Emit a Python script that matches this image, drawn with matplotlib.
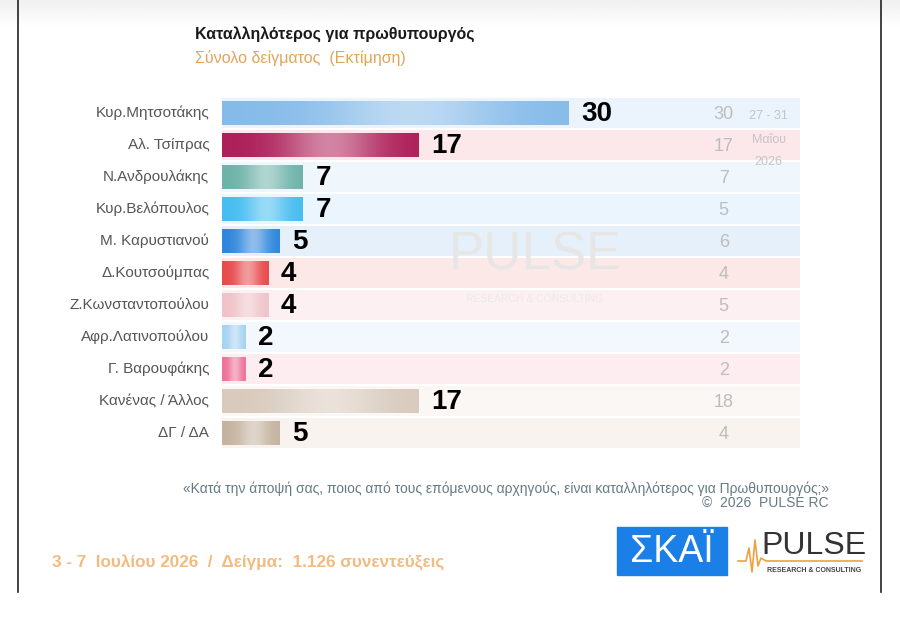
import numpy as np
import matplotlib
matplotlib.use('Agg')
import matplotlib.pyplot as plt
from matplotlib.colors import to_rgb
from matplotlib.lines import Line2D
from matplotlib.patches import Rectangle


# Chart data
leaders = ['Κυρ.Μητσοτάκης', 'Αλ. Τσίπρας', 'Ν.Ανδρουλάκης', 'Κυρ.Βελόπουλος',
           'Μ. Καρυστιανού', 'Δ.Κουτσούμπας', 'Ζ.Κωνσταντοπούλου',
           'Αφρ.Λατινοπούλου', 'Γ. Βαρουφάκης', 'Κανένας / Άλλος', 'ΔΓ / ΔΑ']
current = [30, 17, 7, 7, 5, 4, 4, 2, 2, 17, 5]
previous = [30, 17, 7, 5, 6, 4, 5, 2, 2, 18, 4]
previous_label = ['27 - 31', 'Μαΐου', '2026']

bar_colors = ['#86bbe9', '#ad1f58', '#6eb3a8', '#45bdf0', '#2f86dc', '#e84a4c',
              '#efc3c9', '#a6d2f1', '#ee7299', '#d8cbbd', '#c4b39f']
stripe_colors = ['#ebf4fc', '#fce7eb', '#eff7fc', '#ebf5fd', '#e6f0fa', '#fde8e8',
                 '#fdf0f2', '#f2f8fd', '#fdedf0', '#faf7f4', '#f8f3ee']

FONT = ['Liberation Sans', 'DejaVu Sans']
W, H = 900, 617


def fx(px):
    """Pixel x -> figure fraction."""
    return np.asarray(px) / W


def fy(py):
    """Pixel y (from top) -> figure fraction."""
    return 1 - np.asarray(py) / H


def gradient_bar(ax, patch, color):
    """Fill a bar patch with a horizontal light-in-the-middle gradient."""
    x0, y0 = patch.get_x(), patch.get_y()
    w, h = patch.get_width(), patch.get_height()
    base = np.array(to_rgb(color))
    t = np.linspace(0, 1, 64)
    # brighter in the middle, darker at both ends
    k = 0.45 * np.exp(-((t - 0.55) / 0.25) ** 2)
    row = base[None, :] * (1 - k[:, None]) + k[:, None]
    im = ax.imshow(row[None, :, :], extent=(x0, x0 + w, y0 + h, y0), aspect='auto',
                   interpolation='bilinear', zorder=3)
    im.set_clip_path(patch)


def main():
    fig = plt.figure(figsize=(9, 6.17), dpi=100)
    fig.patch.set_facecolor('white')

    # light grey fade at the top of the screenshot
    top = fig.add_axes([0, fy(28), 1, fy(0) - fy(28)])
    fade = np.linspace(0.94, 1.0, 32)[:, None] * np.ones((1, 4))
    top.imshow(fade, cmap='gray', vmin=0, vmax=1, aspect='auto',
               interpolation='bilinear')
    top.axis('off')

    # Axes placed so the 0..50 scale sits at 222..800 px
    ax = fig.add_axes([fx(222), fy(449), fx(800) - fx(222), fy(97) - fy(449)])
    y = np.arange(len(leaders))

    # background stripes
    ax.barh(y, [50] * len(y), height=0.94, color=stripe_colors, zorder=1)

    # main bars
    bars = ax.barh(y, current, height=0.78, color=bar_colors, zorder=2)
    for patch, col in zip(bars.patches, bar_colors):
        gradient_bar(ax, patch, col)

    ax.set_xlim(0, 50)
    ax.set_ylim(len(y) - 0.5, -0.5)
    ax.axis('off')

    # value labels
    for yi, v in zip(y, current):
        ax.text(v + 1.1, yi + 0.03, str(v), va='center', ha='left', fontsize=20,
                fontweight='bold', color='black', family=FONT, zorder=4)

    # category labels
    for yi, name in zip(y, leaders):
        ax.text(-1.1, yi, name, va='center', ha='right', fontsize=11,
                color='#555555', family=FONT)

    # previous poll column
    for yi, v in zip(y, previous):
        ax.text(43.4, yi + 0.05, str(v), va='center', ha='center', fontsize=13,
                color='#bdbdbd', family=FONT, zorder=4)
    for yl, s in zip([0.1, 0.84, 1.53], previous_label):
        ax.text(47.3, yl, s, va='center', ha='center', fontsize=9,
                color='#c4c4c4', family=FONT, zorder=4)

    # watermark
    fig.text(fx(535), fy(255), 'PULSE', ha='center', va='center', fontsize=38,
             color='#e6e6e6', family=FONT, zorder=5)
    fig.text(fx(535), fy(299), 'RESEARCH & CONSULTING', ha='center', va='center',
             fontsize=7.5, color='#eaeaea', family=FONT, zorder=5)

    # titles
    fig.text(fx(195), fy(34), 'Καταλληλότερος για πρωθυπουργός', ha='left',
             va='center', fontsize=11.5, fontweight='bold', color='#1a1a1a',
             family=FONT)
    fig.text(fx(195), fy(58), 'Σύνολο δείγματος  (Εκτίμηση)', ha='left',
             va='center', fontsize=11.5, color='#e3a45c', family=FONT)

    # footnotes
    fig.text(fx(829), fy(489), '«Κατά την άποψή σας, ποιος από τους επόμενους '
             'αρχηγούς, είναι καταλληλότερος για Πρωθυπουργός;»', ha='right',
             va='center', fontsize=10, color='#667a84', family=FONT)
    fig.text(fx(829), fy(503), '©  2026  PULSE RC', ha='right', va='center',
             fontsize=10, color='#667a84', family=FONT)
    fig.text(fx(52), fy(563), '3 - 7  Ιουλίου 2026  /  Δείγμα:  1.126 συνεντεύξεις',
             ha='left', va='center', fontsize=12.3, fontweight='bold',
             color='#f2bb80', family=FONT)

    # SKAI logo
    fig.add_artist(Rectangle((fx(617), fy(575)), fx(727) - fx(617), fy(527) - fy(575),
                             transform=fig.transFigure, color='#1a7fe6', zorder=5))
    fig.text(fx(672), fy(552), 'ΣΚΑΪ', ha='center', va='center', fontsize=27,
             color='white', family=FONT, zorder=6)

    # PULSE logo
    fig.text(fx(814), fy(546), 'PULSE', ha='center', va='center', fontsize=23,
             color='#333333', family=FONT, zorder=6)
    fig.text(fx(814), fy(570), 'RESEARCH & CONSULTING', ha='center', va='center',
             fontsize=5, fontweight='bold', color='#444444', family=FONT, zorder=6)
    px = [738, 746, 749, 752, 755, 758, 761, 766, 862]
    py = [561, 561, 548, 572, 540, 566, 558, 561, 561]
    fig.add_artist(Line2D(fx(px), fy(py), transform=fig.transFigure,
                          color='#f0a040', lw=1.2, zorder=6))

    # frame lines of the screenshot
    for xp in (18, 881):
        fig.add_artist(Line2D([fx(xp), fx(xp)], [fy(0), fy(592)],
                              transform=fig.transFigure, color='#222222', lw=1.2))

    fig.savefig('out.png', dpi=100, facecolor='white')
    plt.close(fig)


if __name__ == '__main__':
    main()
